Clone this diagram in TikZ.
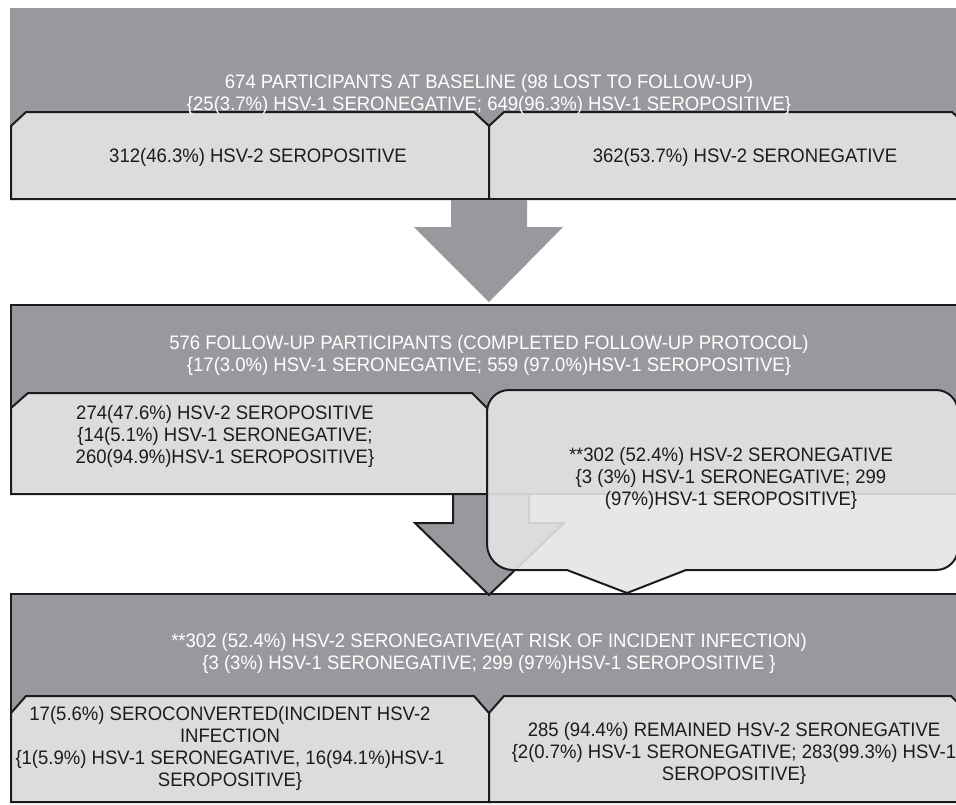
\documentclass[tikz,border=0pt]{standalone}
\usepackage{fontspec}
\setmainfont{Liberation Sans}[FakeStretch=0.95]
\definecolor{boxgray}{RGB}{152,153,157}
\definecolor{tabfill}{RGB}{220,220,222}
\definecolor{callfill}{RGB}{228,228,230}
\definecolor{ink}{RGB}{30,27,28}
\tikzset{
  band/.style={fill=boxgray, draw=ink, line width=2pt},
  tabbox/.style={fill=tabfill, draw=ink, line width=2pt, line join=miter},
  blockarrow/.style={fill=boxgray},
  outlinedarrow/.style={fill=boxgray, draw=ink, line width=2pt, line join=miter},
  callbox/.style={fill=callfill, fill opacity=0.9, draw=ink, line width=2pt, line join=miter},
  lbl/.style={font=\fontsize{19.5}{22}\selectfont, align=center, text=ink, inner sep=0pt},
  wlbl/.style={lbl, text=white}
}
\begin{document}
\begin{tikzpicture}[x=1pt,y=-1pt]
\useasboundingbox (0,0) rectangle (956,804);
\clip (0,0) rectangle (956,804);
% ---------- top band ----------
\fill[boxgray] (10,8) rectangle (975,200);
\draw[tabbox] (11,126) -- (26,112) -- (474,112) -- (489,126) -- (489,199) -- (11,199) -- cycle;
\draw[tabbox] (489,126) -- (504,112) -- (952,112) -- (967,126) -- (967,199) -- (489,199) -- cycle;
\node[wlbl] (base) at (489,94) {674 PARTICIPANTS AT BASELINE (98 LOST TO FOLLOW-UP)\\\{25(3.7\%) HSV-1 SERONEGATIVE; 649(96.3\%) HSV-1 SEROPOSITIVE\}};
\node[lbl] (basepos) at (258,157) {312(46.3\%) HSV-2 SEROPOSITIVE};
\node[lbl] (baseneg) at (745,157) {362(53.7\%) HSV-2 SERONEGATIVE};
% ---------- arrow 1 ----------
\coordinate (a1tip) at (489,302);
\fill[blockarrow] (451,200) -- (527,200) -- (527,227) -- (563,227) -- (a1tip) -- (414,227) -- (451,227) -- cycle;
% ---------- middle band ----------
\draw[band] (11,305) rectangle (980,494);
\draw[tabbox] (11,408) -- (28,393) -- (472,393) -- (487,408) -- (487,494) -- (11,494) -- cycle;
% ---------- bottom band ----------
\draw[band] (11,594) rectangle (980,802);
\draw[tabbox] (11,713) -- (26,696) -- (474,696) -- (489,713) -- (489,802) -- (11,802) -- cycle;
\draw[tabbox] (489,713) -- (504,696) -- (951,696) -- (968,713) -- (968,802) -- (489,802) -- cycle;
% ---------- arrow 2 ----------
\coordinate (a2tip) at (489,595);
\draw[outlinedarrow] (453,494) -- (529,494) -- (529,523) -- (564,523) -- (a2tip) -- (415,523) -- (453,523) -- cycle;
% ---------- callout ----------
\draw[callbox] (487,412) arc[start angle=180, end angle=270, radius=22]
  -- (936,390) arc[start angle=270, end angle=360, radius=22]
  -- (958,548) arc[start angle=0, end angle=90, radius=22]
  -- (686,570) -- (627,593) -- (567,570) -- (513,570)
  arc[start angle=90, end angle=180, radius=26] -- cycle;
% ---------- texts ----------
\node[wlbl] (follow) at (489,355) {576 FOLLOW-UP PARTICIPANTS (COMPLETED FOLLOW-UP PROTOCOL)\\\{17(3.0\%) HSV-1 SERONEGATIVE; 559 (97.0\%)HSV-1 SEROPOSITIVE\}};
\node[lbl] (fpos) at (225,436) {274(47.6\%) HSV-2 SEROPOSITIVE\\\{14(5.1\%) HSV-1 SERONEGATIVE;\\260(94.9\%)HSV-1 SEROPOSITIVE\}};
\node[lbl] (fneg) at (731,478) {**302 (52.4\%) HSV-2 SERONEGATIVE\\\{3 (3\%) HSV-1 SERONEGATIVE; 299\\(97\%)HSV-1 SEROPOSITIVE\}};
\node[wlbl] (risk) at (489,653) {**302 (52.4\%) HSV-2 SERONEGATIVE(AT RISK OF INCIDENT INFECTION)\\\{3 (3\%) HSV-1 SERONEGATIVE; 299 (97\%)HSV-1 SEROPOSITIVE \}};
\node[lbl] (conv) at (230,748) {17(5.6\%) SEROCONVERTED(INCIDENT HSV-2\\INFECTION\\\{1(5.9\%) HSV-1 SERONEGATIVE, 16(94.1\%)HSV-1\\SEROPOSITIVE\}};
\node[lbl] (remain) at (734,753) {285 (94.4\%) REMAINED HSV-2 SERONEGATIVE\\\{2(0.7\%) HSV-1 SERONEGATIVE; 283(99.3\%) HSV-1\\SEROPOSITIVE\}};
\end{tikzpicture}
\end{document}
